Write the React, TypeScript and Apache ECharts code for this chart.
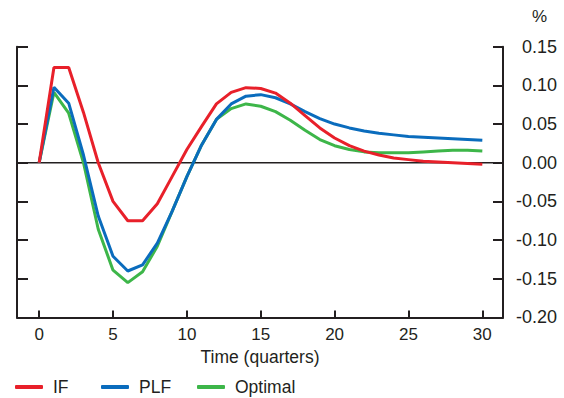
import React, { useEffect, useRef } from "react";
import * as echarts from "echarts";

const quarters: number[] = Array.from({ length: 31 }, (_, i) => i);
const ifValues = [0, 0.123, 0.123, 0.065, 0.0, -0.05, -0.075, -0.075, -0.053, -0.018, 0.017, 0.047, 0.076, 0.091, 0.097, 0.096, 0.09, 0.077, 0.061, 0.045, 0.032, 0.022, 0.015, 0.01, 0.006, 0.004, 0.002, 0.001, 0.0, -0.001, -0.002];
const plfValues = [0, 0.0975, 0.077, 0.01, -0.069, -0.121, -0.14, -0.132, -0.104, -0.063, -0.018, 0.023, 0.056, 0.076, 0.086, 0.088, 0.084, 0.076, 0.066, 0.057, 0.05, 0.045, 0.041, 0.038, 0.036, 0.034, 0.033, 0.032, 0.031, 0.03, 0.029];
const optimalValues = [0, 0.091, 0.064, 0.0, -0.086, -0.139, -0.155, -0.141, -0.108, -0.063, -0.018, 0.023, 0.056, 0.07, 0.076, 0.073, 0.066, 0.055, 0.042, 0.03, 0.022, 0.017, 0.014, 0.013, 0.013, 0.013, 0.014, 0.015, 0.016, 0.016, 0.015];
const xTickValues = [0, 5, 10, 15, 20, 25, 30];
const seriesNames = ["IF", "PLF", "Optimal"];
const seriesColors = ["#e8202a", "#0a6cbd", "#3db649"];

const FONT = "Liberation Sans, Arial, sans-serif";
const TEXT = "#231f20";

export default function App() {
  const ref = useRef<HTMLDivElement>(null);
  useEffect(() => {
    document.body.style.margin = "0";
    const chart = echarts.init(ref.current!, null, { renderer: "svg" });
    const allValues = [ifValues, plfValues, optimalValues];
    const legendLefts = [15, 101, 197];
    chart.setOption({
      animation: false,
      textStyle: { fontFamily: FONT, color: TEXT },
      grid: { left: 17, right: 61, top: 46.7, bottom: 80.6, containLabel: false, outerBoundsMode: "none" },
      legend: seriesNames.map((n, i) => ({
        data: [n],
        left: legendLefts[i],
        top: 378,
        padding: 0,
        icon: "roundRect",
        itemWidth: 28,
        itemHeight: 4,
        itemGap: 10,
        textStyle: { fontFamily: FONT, fontSize: 17.5, color: TEXT, padding: [0, 0, 0, 5] },
        selectedMode: false,
      })),
      graphic: [
        { type: "text", left: 532, top: 8, style: { text: "%", fontFamily: FONT, fontSize: 17, fill: TEXT } },
      ],
      xAxis: {
        type: "value",
        min: -1.5,
        max: 31.4,
        name: "Time (quarters)",
        nameLocation: "middle",
        nameGap: 31,
        nameTextStyle: { fontFamily: FONT, fontSize: 17.5, color: TEXT },
        axisLine: { onZero: false, lineStyle: { color: TEXT, width: 2 } },
        axisTick: { inside: true, length: 7, customValues: xTickValues, lineStyle: { color: TEXT, width: 2 } },
        axisLabel: { customValues: xTickValues, margin: 9, fontSize: 17, color: TEXT, fontFamily: FONT },
        splitLine: { show: false },
      },
      yAxis: [
        {
          type: "value",
          position: "left",
          min: -0.2,
          max: 0.15,
          interval: 0.05,
          axisLine: { show: true, onZero: false, lineStyle: { color: TEXT, width: 2 } },
          axisTick: { show: true, inside: true, length: 11, lineStyle: { color: TEXT, width: 2 } },
          axisLabel: { show: false },
          splitLine: { show: false },
        },
        {
          type: "value",
          position: "right",
          min: -0.2,
          max: 0.15,
          interval: 0.05,
          axisLine: { show: true, onZero: false, lineStyle: { color: TEXT, width: 2 } },
          axisTick: { show: true, inside: true, length: 10, lineStyle: { color: TEXT, width: 2 } },
          axisLabel: {
            show: true,
            align: "right",
            margin: 54,
            fontSize: 18,
            color: TEXT,
            fontFamily: FONT,
            formatter: (v: number) => v.toFixed(2),
          },
          splitLine: { show: false },
        },
      ],
      series: [
        {
          name: "zero",
          type: "line",
          z: 1,
          symbol: "none",
          silent: true,
          data: [[-1.5, 0], [31.4, 0]],
          lineStyle: { color: TEXT, width: 1.5 },
        },
        ...seriesNames.map((n, i) => ({
          name: n,
          type: "line",
          z: 3 - i + 2,
          symbol: "none",
          smooth: false,
          color: seriesColors[i],
          lineStyle: { color: seriesColors[i], width: 3 },
          data: quarters.map((q, j) => [q, allValues[i][j]]),
        })),
      ],
    });
    return () => chart.dispose();
  }, []);
  return <div ref={ref} style={{ width: 564, height: 398 }} />;
}
